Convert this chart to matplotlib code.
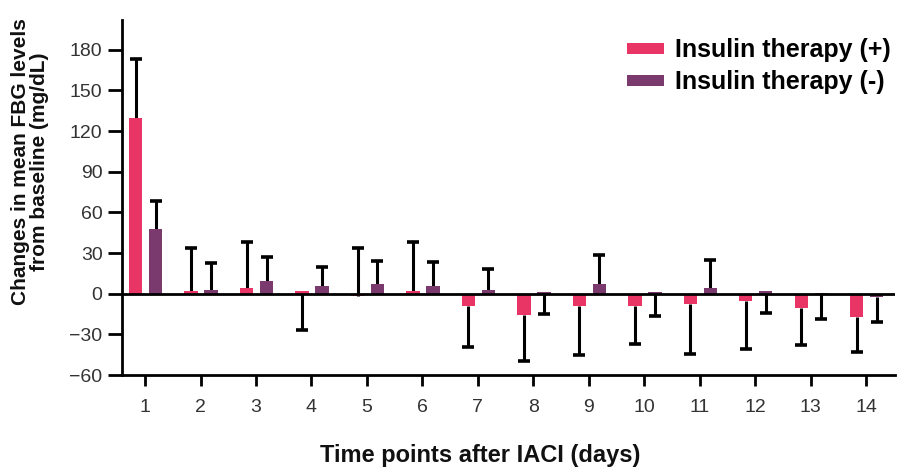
import numpy as np
import matplotlib
matplotlib.use("Agg")
import matplotlib.pyplot as plt

plt.rcParams["font.family"] = ["Liberation Sans", "DejaVu Sans"]

days = list(range(1, 15))

# Insulin therapy (+)
plus_mean = [130, 2, 4, 2, -2, 2, -9, -16, -9, -9.3, -7.4, -5.7, -10.6, -17.3]
plus_err_up = [43, 32, 34.5, 0, 36, 36.5, 0, 0, 0, 0, 0, 0, 0, 0]
plus_err_down = [0, 0, 0, 29, 0, 0, 30, 33.5, 36, 28, 37, 35, 27.5, 26]

# Insulin therapy (-)
minus_mean = [48, 3, 9.3, 5.4, 7.4, 5.7, 2.5, 1.2, 6.9, 1, 4.2, 2, 0.8, -2.5]
minus_err_up = [20.5, 19.5, 17.7, 14.2, 17, 17.6, 16, 0, 21.8, 0, 20.6, 0, 0, 0]
minus_err_down = [0, 0, 0, 0, 0, 0, 0, 16.4, 0, 17.7, 0, 16.2, 19.8, 18.5]

yticks = [-60, -30, 0, 30, 60, 90, 120, 150, 180]

PINK = "#e83566"
PURPLE = "#7a3a6e"

fig = plt.figure(figsize=(8.98, 4.69), dpi=100)
ax = fig.add_axes([0.1359, 0.2004, 0.8608, 0.7570])

x = np.array(days, dtype=float)
w = 0.24


def one_sided_errors(xpos, mean, up, down):
    # only the side that has a value gets a whisker + cap
    mean = np.array(mean)
    up = np.array(up)
    down = np.array(down)
    ends = np.where(up > 0, mean + up, mean - down)
    ax.vlines(xpos, mean, ends, color="black", lw=2.2, zorder=2)
    ax.plot(xpos, ends, ls="none", marker="_", ms=8, mew=2.6, color="black", zorder=2)


ax.bar(x - 0.17, plus_mean, w, color=PINK, label="Insulin therapy (+)", zorder=3)
ax.bar(x + 0.19, minus_mean, w, color=PURPLE, label="Insulin therapy (-)", zorder=3)
one_sided_errors(x - 0.17, plus_mean, plus_err_up, plus_err_down)
one_sided_errors(x + 0.19, minus_mean, minus_err_up, minus_err_down)

ax.axhline(0, color="black", lw=2, zorder=4)

ax.set_xlim(0.585, 14.52)
ax.set_ylim(-60, 202)
ax.set_xticks(days)
ax.set_yticks(yticks)

for s in ["top", "right"]:
    ax.spines[s].set_visible(False)
for s in ["left", "bottom"]:
    ax.spines[s].set_linewidth(2)

ax.tick_params(axis="both", width=2, labelsize=14, labelcolor="#333333")
ax.tick_params(axis="y", length=10, pad=4)
ax.tick_params(axis="x", length=8, pad=9)

fig.text(480 / 898, 1 - 455 / 469, "Time points after IACI (days)", fontsize=17,
         fontweight="bold", color="#111111", ha="center", va="center")
fig.text(30 / 898, 1 - 162 / 469, "Changes in mean FBG levels\nfrom baseline (mg/dL)",
         fontsize=15, fontweight="bold", color="#111111", ha="center", va="center",
         rotation=90, linespacing=0.95)

ax.legend(loc="upper left", bbox_to_anchor=(604 / 898, 1 - 16 / 469),
          bbox_transform=fig.transFigure, frameon=False,
          prop={"weight": "bold", "size": 18}, handlelength=1.48,
          handleheight=0.35, handletextpad=0.45, labelspacing=0.32)

fig.savefig("out.png", dpi=100)
